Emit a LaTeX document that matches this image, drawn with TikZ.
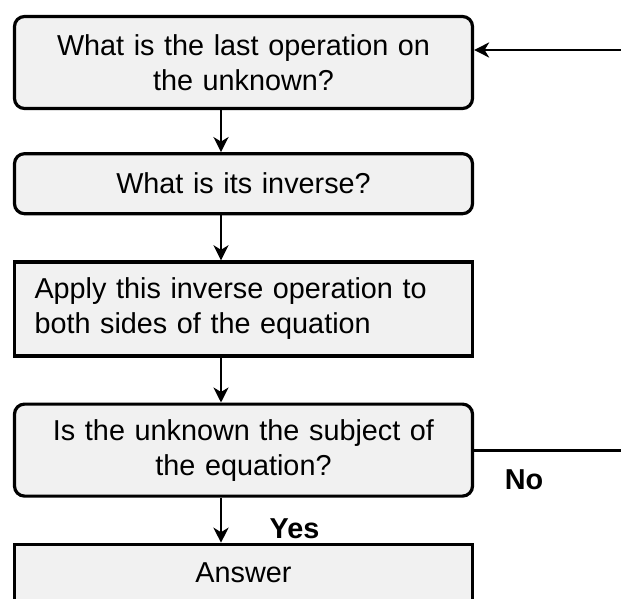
\documentclass[tikz,border=0pt]{standalone}
\usepackage{fontspec}
\setmainfont{Liberation Sans}
\usetikzlibrary{arrows.meta,positioning}

\definecolor{boxfill}{HTML}{F1F1F1}

\begin{document}
\begin{tikzpicture}[
        x=1pt, y=1pt,
        question/.style={
            draw,
            line width=3.2pt,
            rounded corners=10pt,
            fill=boxfill,
            align=center,
            text width=418pt,
            inner xsep=20pt,
            font=\fontsize{28.8}{35}\selectfont
        },
        action/.style={
            question,
            rounded corners=0pt
        },
        lbl/.style={
            font=\fontsize{28.8}{35}\selectfont\bfseries,
            inner sep=0pt
        },
        flow/.style={-{Stealth[length=15pt,width=15pt,inset=4.5pt]},line width=2.8pt},
        node distance=45pt
    ]

        \useasboundingbox (0,0) rectangle (621,-599);
        \clip (0,0) rectangle (621,-599);

        \node[question, minimum height=92pt] (last) at (243.5,-62.5)
            {What is the last operation on\\the unknown?};
        \node[question, minimum height=60pt, below=42pt of last]
            (inv) {What is its inverse?};
        \node[action, minimum height=94pt, align=left, below=of inv]
            (apply) {Apply this inverse operation to\\both sides of the equation};
        \node[question, minimum height=92pt, below=of apply]
            (check) {Is the unknown the subject of\\the equation?};
        \node[action, minimum height=57pt, below=of check]
            (ans) {Answer};

        \node[lbl] (yes) at ([shift={(51pt,-31pt)}]check.south) {Yes};
        \node[lbl] (no) at ([shift={(50pt,-30pt)}]check.east) {No};

        \draw[flow] ([xshift=-22.5pt]last.south) -- ([xshift=-22.5pt]inv.north);
        \draw[flow] ([xshift=-22.5pt]inv.south) -- ([xshift=-22.5pt]apply.north);
        \draw[flow] ([xshift=-22.5pt]apply.south) -- ([xshift=-22.5pt]check.north);
        \draw[flow] ([xshift=-22.5pt]check.south) -- ([xshift=-22.5pt]ans.north);

        % Loop back up past the right edge of the picture.
        \coordinate (loop) at (640,-50);
        \draw[flow] (check.east) -| (loop) -- (loop -| last.east);

    \end{tikzpicture}
\end{document}
